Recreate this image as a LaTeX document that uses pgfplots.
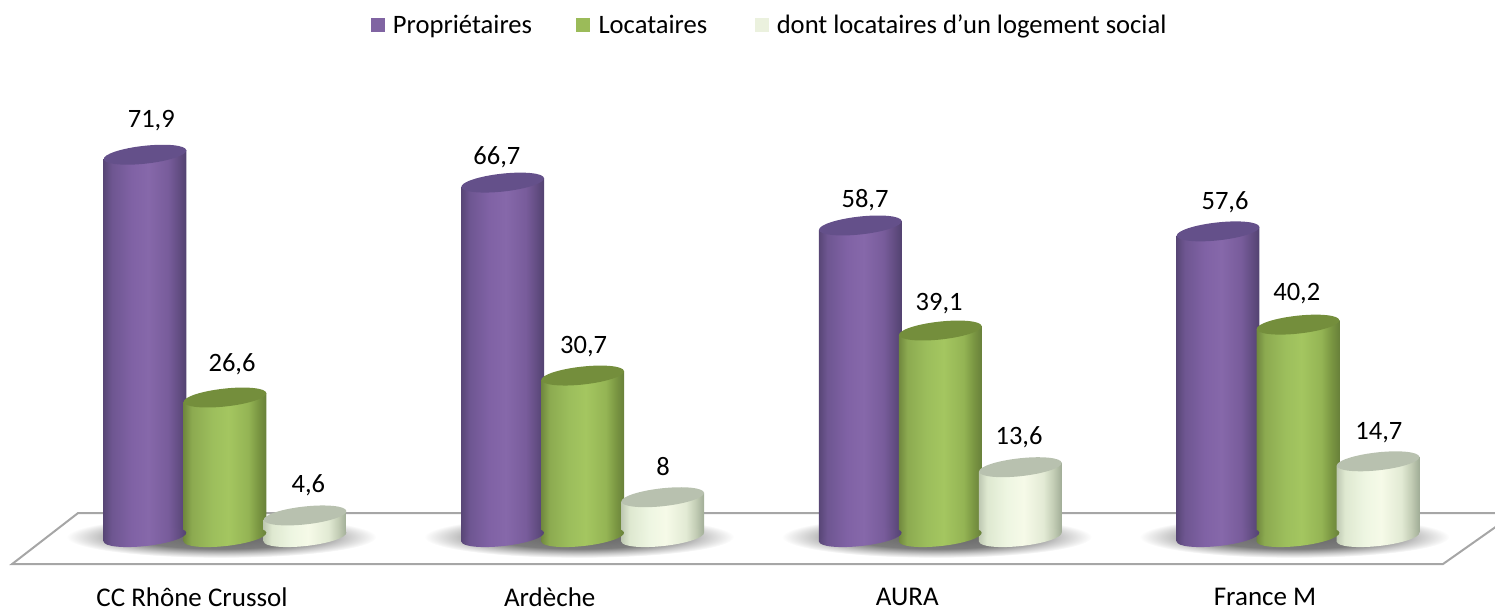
\documentclass[border=0pt]{standalone}
\usepackage{pgfplots}
\pgfplotsset{compat=1.18}
\usepackage{fontspec}
\setmainfont{Carlito}
\definecolor{purpC}{HTML}{8064A2}
\definecolor{greenC}{HTML}{9BBB59}
\definecolor{whiteC}{HTML}{EBF1DE}
\definecolor{floorC}{HTML}{A6A6A6}
\definecolor{p1}{RGB}{88,70,118}\definecolor{p2}{RGB}{110,86,145}\definecolor{p3}{RGB}{128,98,165}\definecolor{p4}{RGB}{134,104,170}\definecolor{p5}{RGB}{120,92,155}\definecolor{p6}{RGB}{100,78,132}\definecolor{p7}{RGB}{82,66,112}
\definecolor{g1}{RGB}{112,136,62}\definecolor{g2}{RGB}{140,170,80}\definecolor{g3}{RGB}{156,190,92}\definecolor{g4}{RGB}{164,198,96}\definecolor{g5}{RGB}{148,180,84}\definecolor{g6}{RGB}{122,150,66}\definecolor{g7}{RGB}{104,128,58}
\definecolor{w1}{RGB}{190,200,178}\definecolor{w2}{RGB}{222,232,208}\definecolor{w3}{RGB}{238,246,226}\definecolor{w4}{RGB}{246,250,232}\definecolor{w5}{RGB}{226,234,212}\definecolor{w6}{RGB}{194,204,180}\definecolor{w7}{RGB}{160,172,150}
\definecolor{s1}{RGB}{100,100,100}\definecolor{s2}{RGB}{125,125,125}\definecolor{s3}{RGB}{200,200,200}
\definecolor{capPc}{RGB}{100,80,138}\definecolor{capGc}{RGB}{116,142,60}\definecolor{capWc}{RGB}{184,193,175}
\pgfdeclarehorizontalshading{purpB}{100bp}{
 color(0bp)=(p1);color(25bp)=(p1);color(30bp)=(p2);color(42bp)=(p3);color(52bp)=(p4);color(64bp)=(p5);color(70bp)=(p6);color(75bp)=(p7);color(100bp)=(p7)}
\pgfdeclarehorizontalshading{greenB}{100bp}{
 color(0bp)=(g1);color(25bp)=(g1);color(30bp)=(g2);color(42bp)=(g3);color(52bp)=(g4);color(64bp)=(g5);color(70bp)=(g6);color(75bp)=(g7);color(100bp)=(g7)}
\pgfdeclarehorizontalshading{whiteB}{100bp}{
 color(0bp)=(w1);color(25bp)=(w1);color(30bp)=(w2);color(42bp)=(w3);color(52bp)=(w4);color(64bp)=(w5);color(70bp)=(w6);color(75bp)=(w7);color(100bp)=(w7)}
\pgfdeclareradialshading{floorS}{\pgfpointorigin}{
 color(0bp)=(s1);color(14bp)=(s2);color(20bp)=(s3);color(25bp)=(white);color(50bp)=(white)}
\newcommand{\capell}{\pgfpathellipse{\pgfpointorigin}{\pgfqpoint{41.3pt}{4.5pt}}{\pgfqpoint{-0.95pt}{8.9pt}}}
\pgfdeclareplotmark{shadowM}{\pgfpathellipse{\pgfpointorigin}{\pgfqpoint{155pt}{0pt}}{\pgfqpoint{0pt}{21pt}}\pgfshadepath{floorS}{0}\pgfusepath{discard}}
\pgfdeclareplotmark{capP}{\capell\pgfsetfillcolor{capPc}\pgfusepath{fill}}
\pgfdeclareplotmark{capG}{\capell\pgfsetfillcolor{capGc}\pgfusepath{fill}}
\pgfdeclareplotmark{capW}{\capell\pgfsetfillcolor{capWc}\pgfusepath{fill}}
\pgfdeclareplotmark{baseP}{\capell\pgfshadepath{purpB}{0}\pgfusepath{discard}}
\pgfdeclareplotmark{baseG}{\capell\pgfshadepath{greenB}{0}\pgfusepath{discard}}
\pgfdeclareplotmark{baseW}{\capell\pgfshadepath{whiteB}{0}\pgfusepath{discard}}
% one cylinder body: centre x, value, shading
\newcommand{\cyl}[3]{%
 \pgfmathsetmacro{\xl}{#1-0.116}\pgfmathsetmacro{\xr}{#1+0.116}%
 \pgfmathsetmacro{\yl}{#2-0.84}\pgfmathsetmacro{\yr}{#2+0.84}%
 \addplot[shade,shading=#3,draw=none,forget plot] coordinates {(\xl,-0.28) (\xl,\yl) (\xr,\yr) (\xr,1.4)} -- cycle;}
\pgfplotsset{common/.style={
 scale only axis, width=1495pt, height=610pt,
 at={(0,0)},
 xmin=-0.6291, xmax=3.5508, ymin=-13.06, ymax=100.75}}
\begin{document}
\begin{tikzpicture}
% floor and its shadows
\begin{axis}[common,hide axis]
\addplot[draw=floorC,line width=2pt,forget plot] coordinates {(3.56,5.04) (-0.411,5.04) (-0.5955,-4.48) (3.405,-4.48) (3.56,2.80)};
\addplot[only marks,mark=shadowM,forget plot] coordinates {(-0.01,0.6) (0.99,0.6) (1.99,0.6) (2.99,0.6)};
\end{axis}
\begin{axis}[common,
 axis line style={draw=none}, major tick length=0pt,
 ytick=\empty,
 xtick={-0.0923,0.9077,1.9077,2.9077},
 xticklabels={CC Rhône Crussol,Ardèche,AURA,France M},
 xticklabel style={font=\fontsize{27}{30}\selectfont,anchor=center,yshift=13pt},
 legend columns=3,
 legend cell align=left,
 legend style={draw=none,fill=none,at={(371/1495,1-25/610)},anchor=west,inner sep=0pt,outer sep=0pt,
   font=\fontsize{26.6}{30}\selectfont,
   nodes={inner xsep=3.5pt,inner ysep=0pt}},
 legend image code/.code={\fill[#1,draw=none] (0pt,-7pt) rectangle (14.5pt,7.5pt);},
]
% Propriétaires
\addplot[only marks,mark=baseP,forget plot] coordinates {(-0.2237,0.56) (0.7763,0.56) (1.7763,0.56) (2.7763,0.56)};
\cyl{-0.2237}{71.9}{purpB}
\cyl{0.7763}{66.7}{purpB}
\cyl{1.7763}{58.7}{purpB}
\cyl{2.7763}{57.6}{purpB}
\addplot[only marks,mark=capP,forget plot] coordinates {(-0.2237,71.9) (0.7763,66.7) (1.7763,58.7) (2.7763,57.6)};
% Locataires
\addplot[only marks,mark=baseG,forget plot] coordinates {(0,0.56) (1,0.56) (2,0.56) (3,0.56)};
\cyl{0}{26.6}{greenB}
\cyl{1}{30.7}{greenB}
\cyl{2}{39.1}{greenB}
\cyl{3}{40.2}{greenB}
\addplot[only marks,mark=capG,forget plot] coordinates {(0,26.6) (1,30.7) (2,39.1) (3,40.2)};
% dont locataires d'un logement social
\addplot[only marks,mark=baseW,forget plot] coordinates {(0.2237,0.56) (1.2237,0.56) (2.2237,0.56) (3.2237,0.56)};
\cyl{0.2237}{4.6}{whiteB}
\cyl{1.2237}{8}{whiteB}
\cyl{2.2237}{13.6}{whiteB}
\cyl{3.2237}{14.7}{whiteB}
\addplot[only marks,mark=capW,forget plot] coordinates {(0.2237,4.6) (1.2237,8) (2.2237,13.6) (3.2237,14.7)};
% legend
\addlegendimage{fill=purpC}\addlegendentry{\rule{4pt}{0pt}Propriétaires\rule{40pt}{0pt}}
\addlegendimage{fill=greenC}\addlegendentry{\rule{5pt}{0pt}Locataires\rule{44pt}{0pt}}
\addlegendimage{fill=whiteC}\addlegendentry{\rule{4pt}{0pt}dont locataires d'un logement social}
% value labels
\tikzset{vl/.style={font=\fontsize{26.5}{30}\selectfont,anchor=center}}
\node[vl] at (axis cs:-0.206,78.2) {71,9};
\node[vl] at (axis cs:0.0196,32.9) {26,6};
\node[vl] at (axis cs:0.233,10.3) {4,6};
\node[vl] at (axis cs:0.76,71.4) {66,7};
\node[vl] at (axis cs:1.0028,36.1) {30,7};
\node[vl] at (axis cs:1.225,13.7) {8};
\node[vl] at (axis cs:1.7895,63.4) {58,7};
\node[vl] at (axis cs:1.9966,44.1) {39,1};
\node[vl] at (axis cs:2.22,19.1) {13,6};
\node[vl] at (axis cs:2.796,63.1) {57,6};
\node[vl] at (axis cs:2.9966,45.9) {40,2};
\node[vl] at (axis cs:3.226,20.1) {14,7};
\end{axis}
\end{tikzpicture}
\end{document}
